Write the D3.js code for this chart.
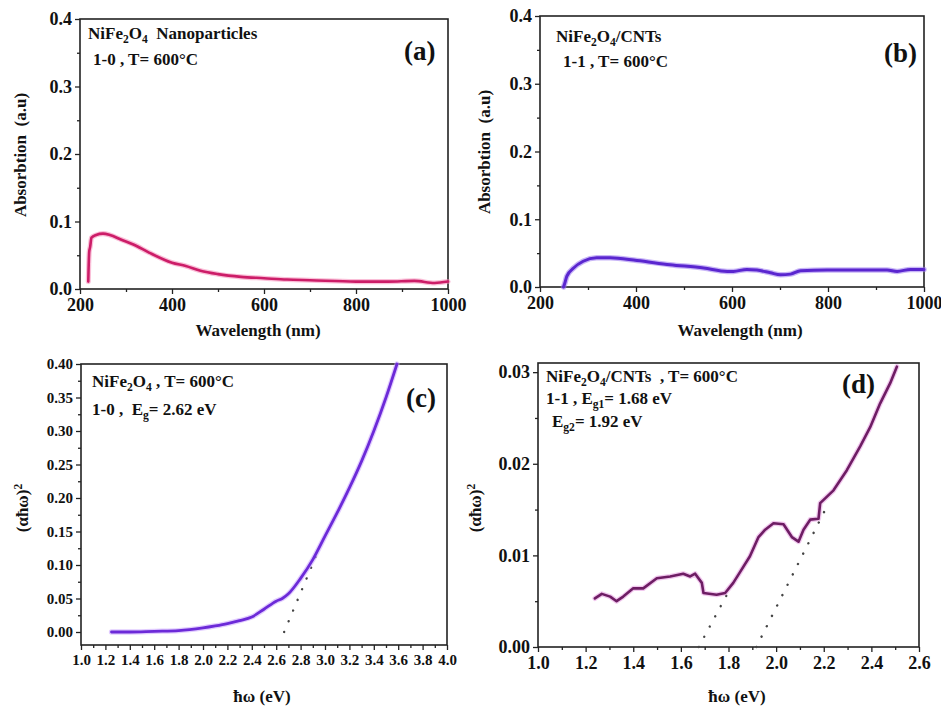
<!DOCTYPE html>
<html>
<head>
<meta charset="utf-8">
<script src="https://cdn.jsdelivr.net/npm/d3@7"></script>
<style>
  body { margin: 0; background: #fff; }
  svg, svg text, svg tspan { font-family: "Liberation Serif", "Times New Roman", "DejaVu Serif", serif !important; font-weight: bold; }
  text { fill: #111; }
</style>
</head>
<body>
<div id="chart"></div>
<script>
// (a) NiFe2O4 nanoparticles - absorption vs wavelength
const aWavelength = [218, 220, 222, 225, 235, 250, 265, 290, 316, 350, 400, 430, 462, 500, 550, 600, 650, 700, 800, 870, 927, 971, 1000];
const aAbsorb = [0.011, 0.055, 0.062, 0.076, 0.080, 0.082, 0.080, 0.073, 0.066, 0.054, 0.039, 0.034, 0.027, 0.022, 0.018, 0.016, 0.014, 0.013, 0.011, 0.011, 0.012, 0.009, 0.011];

// (b) NiFe2O4/CNTs - absorption vs wavelength
const bWavelength = [249, 251, 256, 270, 290, 318, 346, 402, 471, 541, 590, 603, 631, 652, 680, 701, 722, 743, 798, 854, 923, 944, 972, 1000];
const bAbsorb = [0.000, 0.004, 0.016, 0.028, 0.038, 0.043, 0.043, 0.039, 0.033, 0.028, 0.023, 0.023, 0.026, 0.025, 0.021, 0.018, 0.019, 0.024, 0.025, 0.025, 0.025, 0.023, 0.026, 0.026];

// (c) Tauc plot NiFe2O4
const cEnergy = [1.25, 1.4, 1.6, 1.8, 2.0, 2.1, 2.2, 2.3, 2.4, 2.5, 2.6, 2.65, 2.7, 2.8, 2.9, 3.0, 3.1, 3.2, 3.3, 3.4, 3.5, 3.59];
const cTauc = [0.000, 0.000, 0.001, 0.002, 0.006, 0.009, 0.0125, 0.017, 0.0225, 0.034, 0.046, 0.050, 0.057, 0.080, 0.108, 0.143, 0.178, 0.215, 0.255, 0.300, 0.350, 0.400];
const cFitE = [2.665, 2.93];
const cFitY = [0, 0.115];

// (d) Tauc plot NiFe2O4/CNTs
const dEnergy = [1.239, 1.268, 1.303, 1.33, 1.358, 1.40, 1.442, 1.499, 1.555, 1.61, 1.639, 1.66, 1.688, 1.695, 1.75, 1.786, 1.82, 1.849, 1.89, 1.926, 1.954, 1.989, 2.031, 2.066, 2.094, 2.115, 2.143, 2.178, 2.185, 2.241, 2.297, 2.353, 2.395, 2.437, 2.479, 2.507];
const dTauc = [0.0053, 0.0058, 0.0055, 0.0050, 0.0055, 0.0064, 0.0064, 0.0075, 0.0077, 0.0080, 0.0077, 0.0080, 0.0070, 0.0059, 0.0057, 0.0059, 0.0070, 0.0082, 0.0099, 0.0120, 0.0128, 0.0135, 0.0134, 0.0120, 0.0115, 0.0128, 0.0139, 0.0140, 0.0157, 0.0171, 0.0193, 0.0219, 0.0240, 0.0266, 0.0288, 0.0306];
const dFit1E = [1.675, 1.795];
const dFit1Y = [0, 0.0058];
const dFit2E = [1.917, 2.22];
const dFit2Y = [0, 0.0157];

// tick labels
const abXTicks = [200, 400, 600, 800, 1000];
const abYTicks = [0.0, 0.1, 0.2, 0.3, 0.4];
const cXTicks = [1.0, 1.2, 1.4, 1.6, 1.8, 2.0, 2.2, 2.4, 2.6, 2.8, 3.0, 3.2, 3.4, 3.6, 3.8, 4.0];
const cYTicks = [0.00, 0.05, 0.10, 0.15, 0.20, 0.25, 0.30, 0.35, 0.40];
const dXTicks = [1.0, 1.2, 1.4, 1.6, 1.8, 2.0, 2.2, 2.4, 2.6];
const dYTicks = [0.00, 0.01, 0.02, 0.03];

const width = 941;
const height = 706;
const serif = '"Liberation Serif", "Times New Roman", serif';

const svg = d3.select('#chart')
  .append('svg')
  .attr('width', width)
  .attr('height', height)
  .attr('font-family', serif);

svg.append('rect').attr('width', width).attr('height', height).attr('fill', '#fff');

function panel(o) {
  const x = d3.scaleLinear().domain(o.xDomain).range([o.left, o.right]);
  const y = d3.scaleLinear().domain(o.yDomain).range([o.bottom, o.top]);
  const g = svg.append('g');

  // minor ticks
  g.append('g')
    .attr('transform', 'translate(0,' + o.bottom + ')')
    .call(d3.axisBottom(x).tickValues(o.xMinor).tickSize(3).tickSizeOuter(0).tickFormat(''))
    .call(a => a.select('.domain').remove());
  g.append('g')
    .attr('transform', 'translate(' + o.left + ',0)')
    .call(d3.axisLeft(y).tickValues(o.yMinor).tickSize(3).tickSizeOuter(0).tickFormat(''))
    .call(a => a.select('.domain').remove());

  // major ticks + labels
  g.append('g')
    .attr('transform', 'translate(0,' + o.bottom + ')')
    .call(d3.axisBottom(x).tickValues(o.xTicks).tickSize(5).tickPadding(4).tickFormat(d3.format(o.xFmt)))
    .call(a => a.select('.domain').remove());
  g.append('g')
    .attr('transform', 'translate(' + o.left + ',0)')
    .call(d3.axisLeft(y).tickValues(o.yTicks).tickSize(5).tickPadding(3).tickFormat(d3.format(o.yFmt)))
    .call(a => a.select('.domain').remove());

  g.selectAll('g').attr('font-family', serif).attr('font-size', o.tickFont);
  g.selectAll('.tick text').attr('fill', '#111').attr('font-weight', 'bold');
  g.selectAll('.tick line').attr('stroke', '#222').attr('stroke-width', 1.3);

  // frame
  g.append('rect')
    .attr('x', o.left).attr('y', o.top)
    .attr('width', o.right - o.left).attr('height', o.bottom - o.top)
    .attr('fill', 'none').attr('stroke', '#222').attr('stroke-width', 1.6);

  return { g, x, y };
}

function curve(p, xs, ys, halo, core, w, shape) {
  const pts = xs.map((v, i) => [v, ys[i]]);
  const line = d3.line().x(d => p.x(d[0])).y(d => p.y(d[1])).curve(shape || d3.curveMonotoneX);
  p.g.append('path').datum(pts).attr('d', line)
    .attr('fill', 'none').attr('stroke', halo).attr('stroke-width', w + 2.5)
    .attr('stroke-linejoin', 'round').attr('stroke-linecap', 'round').attr('opacity', 0.55);
  p.g.append('path').datum(pts).attr('d', line)
    .attr('fill', 'none').attr('stroke', core).attr('stroke-width', w)
    .attr('stroke-linejoin', 'round').attr('stroke-linecap', 'round');
}

function fitLine(p, xs, ys) {
  p.g.append('line')
    .attr('x1', p.x(xs[0])).attr('y1', p.y(ys[0]))
    .attr('x2', p.x(xs[1])).attr('y2', p.y(ys[1]))
    .attr('stroke', '#444').attr('stroke-width', 2.4)
    .attr('stroke-linecap', 'round').attr('stroke-dasharray', '0.1,11.5');
}

// text with sub/superscripts: parts = [[text, 'sub'|'sup'|null], ...]
function label(x, y, parts, size) {
  const t = svg.append('text')
    .attr('x', x).attr('y', y)
    .attr('font-size', size)
    .attr('font-family', serif)
    .attr('font-weight', 'bold')
    .attr('xml:space', 'preserve');
  let shift = 0;
  parts.forEach(pp => {
    const want = pp[1] === 'sub' ? size * 0.25 : pp[1] === 'sup' ? -size * 0.35 : 0;
    t.append('tspan')
      .attr('dy', want - shift)
      .attr('font-size', pp[1] ? size * 0.68 : size)
      .text(pp[0]);
    shift = want;
  });
  return t;
}

function yTitle(x, y, parts, size) {
  label(0, 0, parts, size)
    .attr('text-anchor', 'middle')
    .attr('transform', 'translate(' + x + ',' + y + ') rotate(-90)');
}

// ---- (a)
const pa = panel({
  left: 80, right: 448, top: 19, bottom: 289,
  xDomain: [200, 1000], yDomain: [0, 0.4],
  xTicks: abXTicks, yTicks: abYTicks,
  xMinor: d3.range(300, 1000, 200), yMinor: d3.range(0.05, 0.4, 0.1),
  xFmt: 'd', yFmt: '.1f', tickFont: 18
});
curve(pa, aWavelength, aAbsorb, '#f58ab8', '#cc1d68', 2.6);

// ---- (b)
const pb = panel({
  left: 540, right: 924, top: 16, bottom: 287,
  xDomain: [200, 1000], yDomain: [0, 0.4],
  xTicks: abXTicks, yTicks: abYTicks,
  xMinor: d3.range(300, 1000, 200), yMinor: d3.range(0.05, 0.4, 0.1),
  xFmt: 'd', yFmt: '.1f', tickFont: 18
});
curve(pb, bWavelength, bAbsorb, '#9b78f0', '#5a26cf', 3);

// ---- (c)
const pc = panel({
  left: 81, right: 447, top: 364, bottom: 645,
  xDomain: [1.0, 4.0], yDomain: [-0.0194, 0.40],
  xTicks: cXTicks, yTicks: cYTicks,
  xMinor: d3.range(1.1, 4.0, 0.2), yMinor: d3.range(0.025, 0.4, 0.05),
  xFmt: '.1f', yFmt: '.2f', tickFont: 15
});
fitLine(pc, cFitE, cFitY);
curve(pc, cEnergy, cTauc, '#c9a3ff', '#6c2ad8', 2.8);

// ---- (d)
const pd = panel({
  left: 538, right: 919, top: 363, bottom: 647,
  xDomain: [1.0, 2.6], yDomain: [0, 0.031],
  xTicks: dXTicks, yTicks: dYTicks,
  xMinor: d3.range(1.1, 2.6, 0.2), yMinor: d3.range(0.005, 0.031, 0.01),
  xFmt: '.1f', yFmt: '.2f', tickFont: 18
});
fitLine(pd, dFit1E, dFit1Y);
fitLine(pd, dFit2E, dFit2Y);
curve(pd, dEnergy, dTauc, '#e59ae0', '#6e1d64', 2.6, d3.curveLinear);

// ---- axis titles
label(258, 336, [['Wavelength (nm)']], 17).attr('text-anchor', 'middle');
label(740, 336, [['Wavelength (nm)']], 17).attr('text-anchor', 'middle');
label(262, 702, [['ħω (eV)']], 17).attr('text-anchor', 'middle');
label(737, 702, [['ħω (eV)']], 17).attr('text-anchor', 'middle');
yTitle(26, 155, [['Absorbtion  (a.u)']], 17);
yTitle(490, 152, [['Absorbtion  (a.u)']], 17);
yTitle(28, 508, [['(αħω)'], ['2', 'sup']], 17);
yTitle(481, 508, [['(αħω)'], ['2', 'sup']], 17);

// ---- annotations
label(88, 39, [['NiFe'], ['2', 'sub'], ['O'], ['4', 'sub'], ['  Nanoparticles']], 17);
label(93, 65, [['1-0 , T= 600°C']], 17);
label(404, 60, [['(a)']], 27);

label(556, 42, [['NiFe'], ['2', 'sub'], ['O'], ['4', 'sub'], ['/CNTs']], 17);
label(563, 67, [['1-1 , T= 600°C']], 17);
label(884, 62, [['(b)']], 27);

label(92, 387, [['NiFe'], ['2', 'sub'], ['O'], ['4', 'sub'], [' , T= 600°C']], 17);
label(92, 415, [['1-0 ,  E'], ['g', 'sub'], ['= 2.62 eV']], 17);
label(406, 407, [['(c)']], 27);

label(546, 382, [['NiFe'], ['2', 'sub'], ['O'], ['4', 'sub'], ['/CNTs  , T= 600°C']], 17);
label(546, 404, [['1-1 , E'], ['g1', 'sub'], ['= 1.68 eV']], 17);
label(552, 427, [['E'], ['g2', 'sub'], ['= 1.92 eV']], 17);
label(842, 393, [['(d)']], 27);
</script>
</body>
</html>
